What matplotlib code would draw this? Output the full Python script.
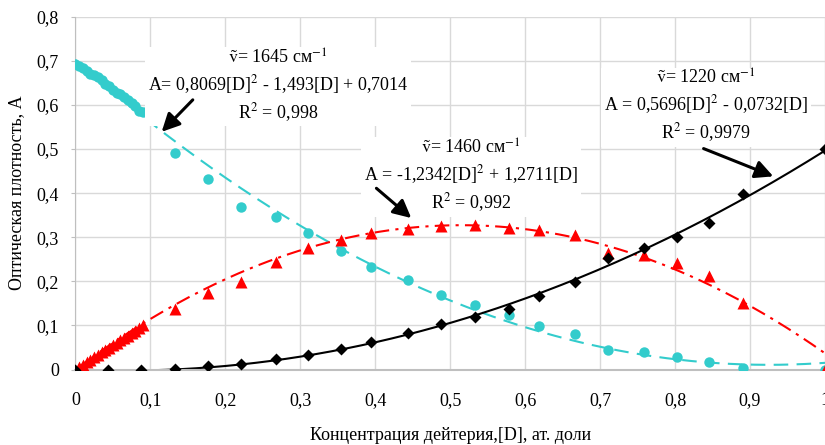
import numpy as np
import matplotlib
matplotlib.use("Agg")
import matplotlib.pyplot as plt

plt.rcParams['font.family'] = ['Liberation Serif', 'DejaVu Serif']
plt.rcParams['mathtext.fontset'] = 'stix'

# dense measurements at low deuterium concentration
x_low = [0.000, 0.005, 0.010, 0.015, 0.020, 0.025, 0.030, 0.035, 0.040, 0.045,
         0.050, 0.055, 0.060, 0.065, 0.070, 0.075, 0.080, 0.085, 0.090]
a1645_low = [0.693, 0.688, 0.684, 0.677, 0.671, 0.667, 0.663, 0.656, 0.648, 0.642,
             0.633, 0.628, 0.625, 0.618, 0.612, 0.604, 0.598, 0.586, 0.583]
a1460_low = [0.000, 0.006, 0.011, 0.017, 0.022, 0.028, 0.033, 0.039, 0.044, 0.050,
             0.055, 0.061, 0.066, 0.072, 0.077, 0.083, 0.088, 0.094, 0.100]
x_1220_low = [0.000, 0.044, 0.088]
a1220_low = [0.000, 0.000, 0.000]

# main measurements
x_main = [0.1325, 0.177, 0.221, 0.268, 0.310, 0.354, 0.394, 0.443, 0.488, 0.533,
          0.578, 0.619, 0.666, 0.711, 0.758, 0.802, 0.845, 0.891, 1.000]
a1645 = [0.492, 0.433, 0.368, 0.346, 0.310, 0.269, 0.233, 0.202, 0.170, 0.147,
         0.123, 0.098, 0.080, 0.044, 0.039, 0.029, 0.018, 0.004, 0.000]
a1460 = [0.138, 0.173, 0.199, 0.243, 0.276, 0.294, 0.309, 0.318, 0.325, 0.327,
         0.322, 0.316, 0.305, 0.265, 0.260, 0.241, 0.211, 0.151, 0.000]
a1220 = [0.002, 0.008, 0.012, 0.024, 0.034, 0.046, 0.063, 0.084, 0.103, 0.119,
         0.138, 0.166, 0.198, 0.252, 0.275, 0.301, 0.333, 0.397, 0.500]

# trendline coefficients as printed on the chart
fit1645 = [0.8069, -1.493, 0.7014]
fit1460 = [-1.2342, 1.2711, 0.0]
fit1220 = [0.5696, -0.0732, 0.0]

xticks = [0, 0.1, 0.2, 0.3, 0.4, 0.5, 0.6, 0.7, 0.8, 0.9, 1.0]
xtick_labels = ["0", "0,1", "0,2", "0,3", "0,4", "0,5", "0,6", "0,7", "0,8", "0,9", "1"]
yticks = [0, 0.1, 0.2, 0.3, 0.4, 0.5, 0.6, 0.7, 0.8]
ytick_labels = ["0", "0,1", "0,2", "0,3", "0,4", "0,5", "0,6", "0,7", "0,8"]

cyan = '#33CCCC'
red = '#FF0000'

fig = plt.figure(figsize=(8.25, 4.45), dpi=100)
ax = fig.add_axes([0.0915, 0.1695, 0.9085, 0.793])

xx = np.linspace(0, 1, 300)
ax.plot(xx, np.polyval(fit1645, xx), color=cyan, lw=1.5, dashes=(7, 4), zorder=2)
ax.plot(xx, np.polyval(fit1460, xx), color=red, lw=1.5, dashes=(7, 3, 1.5, 3), zorder=2)
ax.plot(xx, np.polyval(fit1220, xx), color='black', lw=1.5, zorder=2)

ax.plot(x_low + x_main, a1645_low + a1645, 'o', color=cyan, ms=7.5, mec='none', zorder=3)
ax.plot(x_low + x_main, a1460_low + a1460, '^', color=red, ms=8, mec='none', zorder=4)
ax.plot(x_1220_low + x_main, a1220_low + a1220, 'D', color='black', ms=6.2, mec='none', zorder=5)

ax.set_xlim(0, 1)
ax.set_ylim(0, 0.8)
ax.set_xticks(xticks)
ax.set_xticklabels(xtick_labels)
ax.set_yticks(yticks)
ax.set_yticklabels(ytick_labels)
ax.tick_params(axis='x', length=0, pad=16, labelsize=13)
ax.tick_params(axis='y', length=3, color='#bfbfbf', pad=9, labelsize=13)
ax.grid(True, color='#d9d9d9', lw=1)
ax.set_axisbelow(True)
for s in ['top', 'right']:
    ax.spines[s].set_visible(False)
ax.spines['left'].set_color('#bfbfbf')
ax.spines['bottom'].set_color('#bfbfbf')
ax.spines['bottom'].set_linewidth(1.5)

ax.set_xlabel("Концентрация дейтерия,[D], ат. доли", fontsize=13, labelpad=13)
ax.set_ylabel("Оптическая плотность, А", fontsize=13, labelpad=8)

box = dict(facecolor='white', edgecolor='none', pad=2)
ax.text(0.270, 0.643,
        "$\\tilde{\\mathrm{v}}$= 1645 см$^{-1}$\n"
        "A= 0,8069[D]$^2$ - 1,493[D] + 0,7014\n"
        "R$^2$ = 0,998",
        ha='center', va='center', fontsize=13, linespacing=1.3, bbox=box, zorder=6)
ax.text(0.528, 0.438,
        "$\\tilde{\\mathrm{v}}$= 1460 см$^{-1}$\n"
        "A = -1,2342[D]$^2$ + 1,2711[D]\n"
        "R$^2$ = 0,992",
        ha='center', va='center', fontsize=13, linespacing=1.3, bbox=box, zorder=6)
ax.text(0.841, 0.596,
        "$\\tilde{\\mathrm{v}}$= 1220 см$^{-1}$\n"
        "A = 0,5696[D]$^2$ - 0,0732[D]\n"
        "R$^2$ = 0,9979",
        ha='center', va='center', fontsize=13, linespacing=1.3, bbox=box, zorder=6)

arrow = dict(arrowstyle='-|>', color='black', lw=2.2, mutation_scale=27, shrinkA=0, shrinkB=0)
ax.annotate("", xy=(0.115, 0.539), xytext=(0.1565, 0.6115), arrowprops=arrow, zorder=7)
ax.annotate("", xy=(0.448, 0.3435), xytext=(0.4015, 0.411), arrowprops=arrow, zorder=7)
ax.annotate("", xy=(0.931, 0.438), xytext=(0.838, 0.501), arrowprops=arrow, zorder=7)

for lbl in ax.get_xticklabels() + ax.get_yticklabels():
    lbl.set_clip_on(False)

fig.savefig("out.png", dpi=100)
